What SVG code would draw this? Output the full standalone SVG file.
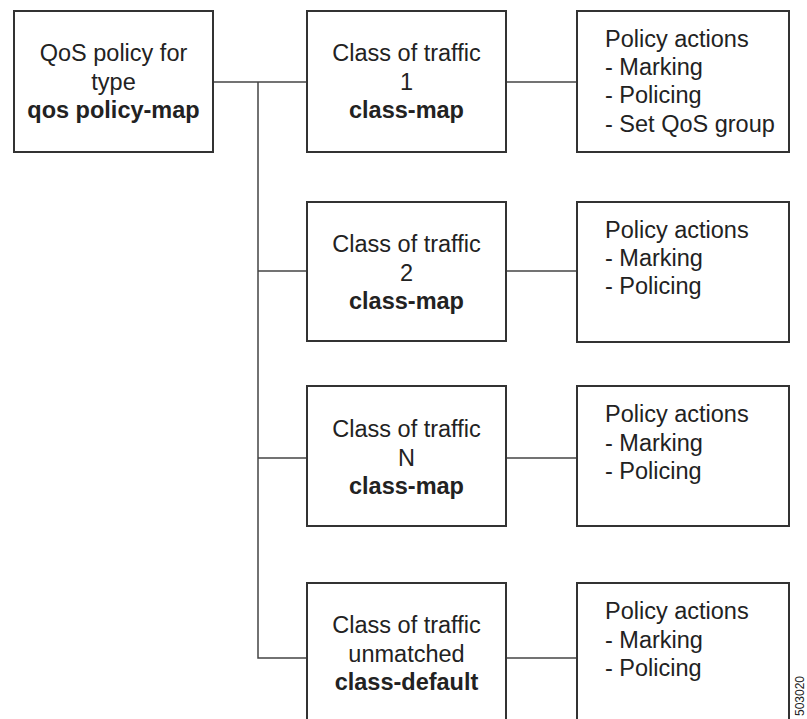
<svg xmlns="http://www.w3.org/2000/svg" width="807" height="719" viewBox="0 0 807 719">
<style>
.box{fill:#fff;stroke:#333;stroke-width:2}
.conn{fill:none;stroke:#444;stroke-width:1.5}
text{font-family:"Liberation Sans",Arial,sans-serif;font-size:23.5px;fill:#222}
.c{text-anchor:middle}
.b{font-weight:bold}
.tag{font-size:12px}
</style>
<rect width="807" height="719" fill="#fff"/>
<g id="connectors">
<polyline class="conn" points="213,82 307,82"/>
<polyline class="conn" points="258,82 258,658 307,658"/>
<line class="conn" x1="258" y1="271" x2="307" y2="271"/>
<line class="conn" x1="258" y1="458" x2="307" y2="458"/>
<line class="conn" x1="506" y1="82" x2="577" y2="82"/>
<line class="conn" x1="506" y1="271" x2="577" y2="271"/>
<line class="conn" x1="506" y1="458" x2="577" y2="458"/>
<line class="conn" x1="506" y1="658" x2="577" y2="658"/>
</g>
<g id="root">
<rect class="box" x="14" y="11" width="199" height="141"/>
<text class="c" x="113.5" y="61">QoS policy for</text>
<text class="c" x="113.5" y="90">type</text>
<text class="c b" x="113.5" y="118">qos policy-map</text>
</g>
<g id="class1">
<rect class="box" x="307" y="11" width="199" height="141"/>
<text class="c" x="406.5" y="61">Class of traffic</text>
<text class="c" x="406.5" y="90">1</text>
<text class="c b" x="406.5" y="118">class-map</text>
</g>
<g id="policy1">
<rect class="box" x="577" y="11" width="212" height="141"/>
<text x="605" y="47">Policy actions</text>
<text x="605" y="75">- Marking</text>
<text x="605" y="103">- Policing</text>
<text x="605" y="132">- Set QoS group</text>
</g>
<g id="class2">
<rect class="box" x="307" y="202" width="199" height="139"/>
<text class="c" x="406.5" y="252">Class of traffic</text>
<text class="c" x="406.5" y="281">2</text>
<text class="c b" x="406.5" y="309">class-map</text>
</g>
<g id="policy2">
<rect class="box" x="577" y="202" width="212" height="140"/>
<text x="605" y="238">Policy actions</text>
<text x="605" y="266">- Marking</text>
<text x="605" y="294">- Policing</text>
</g>
<g id="classN">
<rect class="box" x="307" y="386" width="199" height="140"/>
<text class="c" x="406.5" y="437">Class of traffic</text>
<text class="c" x="406.5" y="466">N</text>
<text class="c b" x="406.5" y="494">class-map</text>
</g>
<g id="policyN">
<rect class="box" x="577" y="386" width="212" height="140"/>
<text x="605" y="422">Policy actions</text>
<text x="605" y="451">- Marking</text>
<text x="605" y="479">- Policing</text>
</g>
<g id="classDefault">
<rect class="box" x="307" y="583" width="199" height="150"/>
<text class="c" x="406.5" y="633">Class of traffic</text>
<text class="c" x="406.5" y="662">unmatched</text>
<text class="c b" x="406.5" y="690">class-default</text>
</g>
<g id="policyDefault">
<rect class="box" x="577" y="583" width="212" height="150"/>
<text x="605" y="619">Policy actions</text>
<text x="605" y="648">- Marking</text>
<text x="605" y="676">- Policing</text>
</g>
<text class="tag" transform="translate(804,716) rotate(-90)">503020</text>
</svg>
